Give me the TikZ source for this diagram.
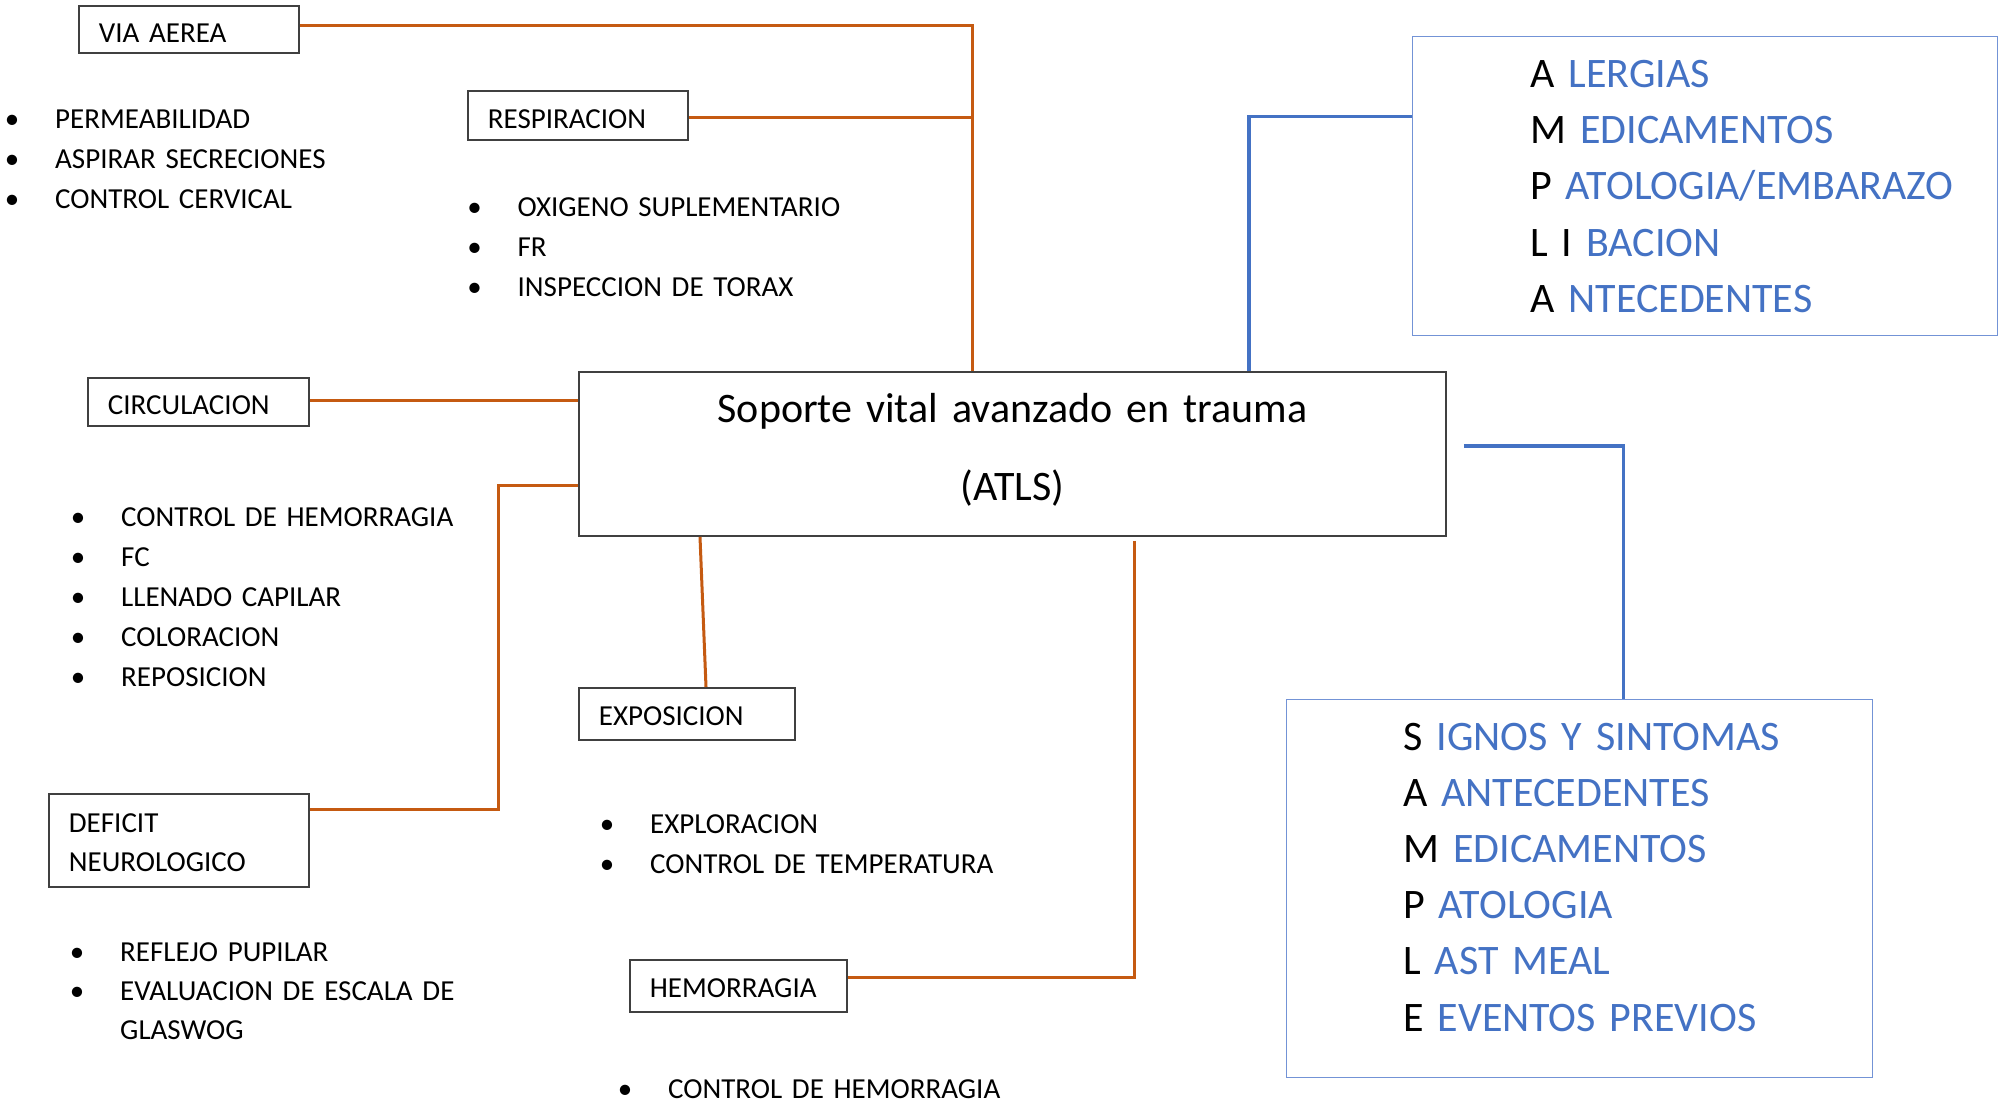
\documentclass[tikz,border=0pt]{standalone}
\usepackage{fontspec}
\setmainfont{Carlito}
\definecolor{lorange}{HTML}{C55A11}
\definecolor{lblue}{HTML}{4472C4}
\definecolor{tblue}{HTML}{4472C4}
\definecolor{bbord}{HTML}{7393D6}
\definecolor{boxgray}{HTML}{404040}
\newcommand{\bul}{\makebox[0pt][c]{\textbullet}\hspace{43pt}}
\newlength{\myws}
\newcommand{\sfont}{\fontsize{29}{40}\selectfont\setlength{\myws}{0.2em}\spaceskip\myws}
\newcommand{\bfont}{\fontsize{29}{39}\selectfont\setlength{\myws}{0.2em}\spaceskip\myws}
\newcommand{\lfont}{\fontsize{42}{56.2}\selectfont\setlength{\myws}{0.2em}\spaceskip\myws}
\newcommand{\tfont}{\fontsize{42}{78}\selectfont\setlength{\myws}{0.2em}\spaceskip\myws}
\begin{document}
\begin{tikzpicture}[x=1pt,y=-1pt,
  box/.style={draw=boxgray, line width=1.8pt, anchor=north west, inner xsep=20pt, inner ysep=0pt,
    align=left, font=\bfont, text height=26pt, text depth=0pt},
  box2/.style={draw=boxgray, line width=1.8pt, anchor=north west, inner xsep=20pt, inner ysep=0pt,
    align=left, font=\bfont, text height=24pt},
  mainbox/.style={draw=boxgray, line width=1.8pt, anchor=north west, inner sep=0pt,
    align=center, font=\tfont, text height=24pt, text depth=86pt},
  bluebox/.style={draw=bbord, line width=1.3pt, anchor=north west, inner sep=0pt},
  bluelist/.style={anchor=base west, inner sep=0pt, align=left, text width=560pt, font=\lfont},
  blist/.style={anchor=base west, inner sep=0pt, align=left, text width=600pt, font=\sfont},
  oline/.style={draw=lorange, line width=3pt},
  bline/.style={draw=lblue, line width=3.2pt}]
\fill[white] (0,0) rectangle (2007,1102);
\useasboundingbox (0,0) rectangle (2007,1102);

% boxes
\node[box, minimum width=220pt, minimum height=47pt, text width=180pt] (va) at (78,5) {VIA AEREA};
\node[box, minimum width=220pt, minimum height=49pt, text width=180pt] (resp) at (467,90) {RESPIRACION};
\node[box, minimum width=221pt, minimum height=48pt, text width=181pt] (circ) at (87,377) {CIRCULACION};
\node[box2, minimum width=260pt, minimum height=93pt, text width=220pt] (def) at (48,793) {DEFICIT\\NEUROLOGICO};
\node[box, minimum width=216pt, minimum height=52pt, text width=176pt, text height=24pt] (expo) at (578,687) {EXPOSICION};
\node[box, minimum width=217pt, minimum height=52pt, text width=177pt, text height=24pt] (hem) at (629,959) {HEMORRAGIA};
\node[mainbox, minimum width=867pt, minimum height=164pt, text width=867pt] (main) at (578,371)
  {Soporte vital avanzado en trauma\\(ATLS)};
\node[bluebox, minimum width=585pt, minimum height=299pt] (ampl) at (1412,36) {};
\node[bluebox, minimum width=586pt, minimum height=378pt] (sample) at (1286,699) {};

% blue lists
\node[bluelist] (amplT) at (1530,87.5) {A \textcolor{tblue}{LERGIAS}\\
M \textcolor{tblue}{EDICAMENTOS}\\
P \textcolor{tblue}{ATOLOGIA/EMBARAZO}\\
L I \textcolor{tblue}{BACION}\\
A \textcolor{tblue}{NTECEDENTES}};
\node[bluelist] (sampleT) at (1403,750) {S \textcolor{tblue}{IGNOS Y SINTOMAS}\\
A \textcolor{tblue}{ANTECEDENTES}\\
M \textcolor{tblue}{EDICAMENTOS}\\
P \textcolor{tblue}{ATOLOGIA}\\
L \textcolor{tblue}{AST MEAL}\\
E \textcolor{tblue}{EVENTOS PREVIOS}};

% bullet lists
\node[blist] (vaL) at (12,129) {\bul PERMEABILIDAD\\ \bul ASPIRAR SECRECIONES\\ \bul CONTROL CERVICAL};
\node[blist] (respL) at (474.5,216.7) {\bul OXIGENO SUPLEMENTARIO\\ \bul FR\\ \bul INSPECCION DE TORAX};
\node[blist] (circL) at (78,526) {\bul CONTROL DE HEMORRAGIA\\ \bul FC\\ \bul LLENADO CAPILAR\\ \bul COLORACION\\ \bul REPOSICION};
\node[blist] (expoL) at (607,833.5) {\bul EXPLORACION\\ \bul CONTROL DE TEMPERATURA};
\node[blist, font=\bfont] (defL) at (77,961.5) {\bul REFLEJO PUPILAR\\ \bul EVALUACION DE ESCALA DE\\ \hspace*{43pt}GLASWOG};
\node[blist] (hemL) at (625,1098) {\bul CONTROL DE HEMORRAGIA};

% orange connectors
\coordinate (trunk) at ([xshift=394pt]main.north west);
\draw[oline] ([yshift=4pt]va.east) -| (trunk);
\draw[oline] ([yshift=-2.5pt]resp.east) -- ([yshift=-2.5pt]resp.east -| trunk);
\draw[oline] ([yshift=1pt]circ.east) -- ([yshift=1pt]circ.east -| main.west);
\draw[oline] ([yshift=-32pt]main.west) -- ++(-80pt,0) |- ([yshift=30.5pt]def.east);
\draw[oline] ([xshift=122pt]main.south west) -- ([xshift=128pt]expo.north west);
\draw[oline] ([xshift=556pt,yshift=-4pt]main.south west) |- ([yshift=8pt]hem.east);

% blue connectors
\draw[bline] ([xshift=671pt]main.north west) |- ([yshift=69.5pt]ampl.west);
\draw[bline] ([xshift=17pt,yshift=8pt]main.east) -| ([xshift=44pt]sample.north);
\end{tikzpicture}
\end{document}
